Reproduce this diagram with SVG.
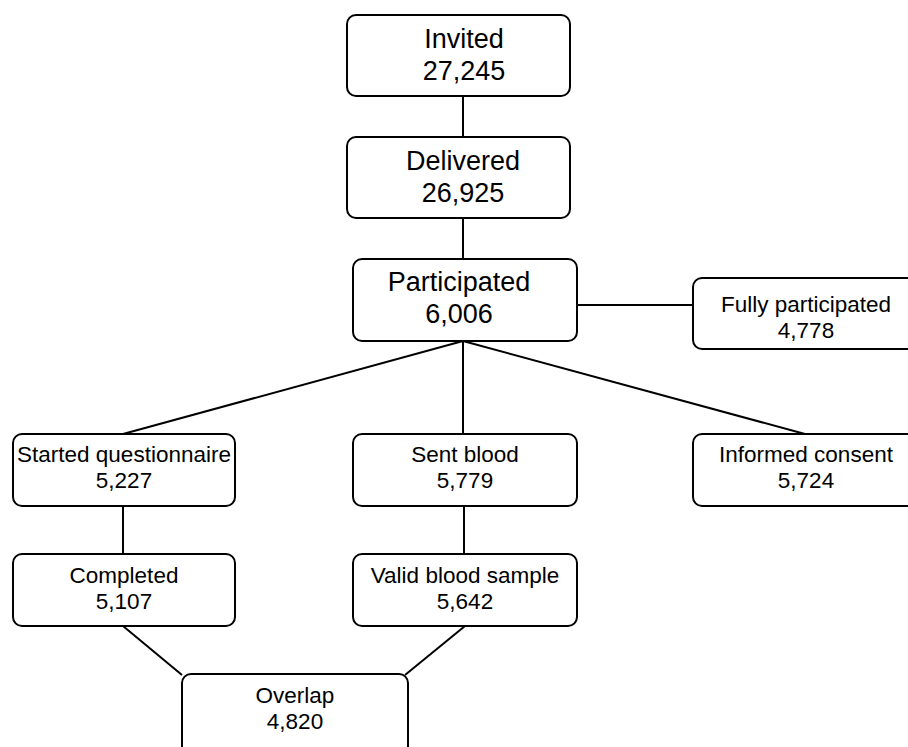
<svg xmlns="http://www.w3.org/2000/svg" width="908" height="747" viewBox="0 0 908 747">
<style>
.box{fill:#fff;stroke:#000;stroke-width:2}
.ln{stroke:#000;stroke-width:2;fill:none}
.big{font-family:"Liberation Sans",Arial,sans-serif;font-size:27px;text-anchor:middle;fill:#000}
.sm{font-family:"Liberation Sans",Arial,sans-serif;font-size:22.5px;text-anchor:middle;fill:#000}
</style>
<rect width="908" height="747" fill="#fff"/>
<g id="connectors">
<line class="ln" x1="463" y1="96" x2="463" y2="137"/>
<line class="ln" x1="463" y1="218" x2="463" y2="258"/>
<line class="ln" x1="577" y1="305" x2="693" y2="305"/>
<line class="ln" x1="463" y1="341" x2="123" y2="434"/>
<line class="ln" x1="463" y1="341" x2="463" y2="434"/>
<line class="ln" x1="463" y1="341" x2="805" y2="434"/>
<line class="ln" x1="123" y1="506" x2="123" y2="554"/>
<line class="ln" x1="464" y1="506" x2="464" y2="554"/>
<line class="ln" x1="123" y1="626" x2="182" y2="675"/>
<line class="ln" x1="465" y1="626" x2="405" y2="675"/>
</g>
<g id="invited"><rect class="box" x="347" y="15" width="223" height="81" rx="9"/><text class="big" x="464" y="48">Invited</text><text class="big" x="464" y="80">27,245</text></g>
<g id="delivered"><rect class="box" x="347" y="137" width="223" height="81" rx="9"/><text class="big" x="463" y="170">Delivered</text><text class="big" x="463" y="202">26,925</text></g>
<g id="participated"><rect class="box" x="353" y="259" width="224" height="82" rx="9"/><text class="big" x="459" y="291">Participated</text><text class="big" x="459" y="323">6,006</text></g>
<g id="fully"><rect class="box" x="693" y="278" width="230" height="71" rx="9"/><text class="sm" x="806" y="312">Fully participated</text><text class="sm" x="806" y="338">4,778</text></g>
<g id="started"><rect class="box" x="13" y="434" width="222" height="72" rx="9"/><text class="sm" x="124" y="462">Started questionnaire</text><text class="sm" x="124" y="488">5,227</text></g>
<g id="sent"><rect class="box" x="353" y="434" width="224" height="72" rx="9"/><text class="sm" x="465" y="462">Sent blood</text><text class="sm" x="465" y="488">5,779</text></g>
<g id="consent"><rect class="box" x="693" y="434" width="230" height="72" rx="9"/><text class="sm" x="806" y="462">Informed consent</text><text class="sm" x="806" y="488">5,724</text></g>
<g id="completed"><rect class="box" x="13" y="554" width="222" height="72" rx="9"/><text class="sm" x="124" y="583">Completed</text><text class="sm" x="124" y="609">5,107</text></g>
<g id="valid"><rect class="box" x="353" y="554" width="224" height="72" rx="9"/><text class="sm" x="465" y="583">Valid blood sample</text><text class="sm" x="465" y="609">5,642</text></g>
<g id="overlap"><rect class="box" x="182" y="674" width="226" height="90" rx="9"/><text class="sm" x="295" y="703">Overlap</text><text class="sm" x="295" y="729">4,820</text></g>
</svg>
